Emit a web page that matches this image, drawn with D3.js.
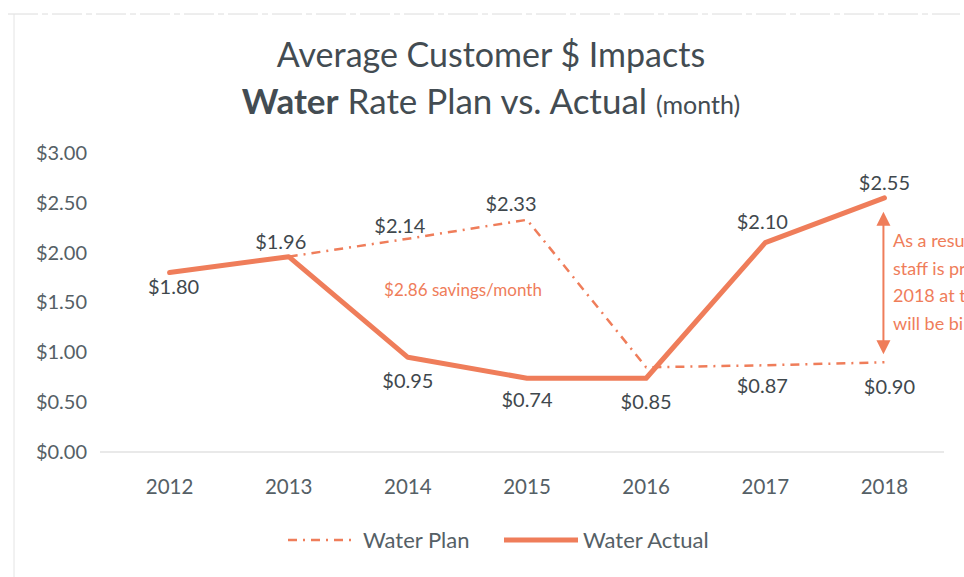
<!DOCTYPE html>
<html>
<head>
<meta charset="utf-8">
<script src="https://cdnjs.cloudflare.com/ajax/libs/d3/7.8.5/d3.min.js"></script>
<style>
  body { margin: 0; background: #fff; }
  svg { display: block; font-family: Lato, "Open Sans", sans-serif; }
</style>
</head>
<body>
<div id="chart"></div>
<script>
// chart values
const years = ["2012", "2013", "2014", "2015", "2016", "2017", "2018"];
const planValues = [null, 1.96, 2.14, 2.33, 0.85, 0.87, 0.90];
const actualValues = [1.80, 1.96, 0.95, 0.74, 0.74, 2.10, 2.55];
const yTicks = [0, 0.5, 1, 1.5, 2, 2.5, 3];
const legendNames = ["Water Plan", "Water Actual"];
const noteLines = ["As a result of the rate review,", "staff is proposing to end", "2018 at the planned rate; customers", "will be billed accordingly"];

const W = 964, H = 577;
const orange = "#ef7d5a";
const textCol = "#434c52";

const svg = d3.select("#chart").append("svg")
    .attr("width", W)
    .attr("height", H);

// faint scanned page edges
svg.append("line").attr("x1", 8).attr("x2", 960).attr("y1", 14).attr("y2", 14)
    .attr("stroke", "#dcdcdc").attr("stroke-dasharray", "30 4 6 4");
svg.append("line").attr("x1", 14).attr("x2", 14).attr("y1", 14).attr("y2", 577)
    .attr("stroke", "#e4e4e4");

const x = d3.scaleBand().domain(years).range([110, 944]);
const y = d3.scaleLinear().domain([0, 3]).range([452, 153]);
const cx = d => x(d) + x.bandwidth() / 2;

// title
const title = svg.append("g").attr("fill", textCol).attr("text-anchor", "middle");
title.append("text").attr("x", 491).attr("y", 67)
    .style("font-size", "34px")
    .text("Average Customer $ Impacts");
const t2 = title.append("text").attr("x", 491).attr("y", 114).style("font-size", "35px");
t2.append("tspan").style("font-weight", "bold").text("Water");
t2.append("tspan").text(" Rate Plan vs. Actual ");
t2.append("tspan").style("font-size", "25px").text("(month)");

// y axis labels (no line)
const yAxis = svg.append("g")
    .attr("transform", "translate(87,0)")
    .call(d3.axisLeft(y).tickValues(yTicks).tickSize(0).tickPadding(0)
        .tickFormat(d => "$" + d3.format(".2f")(d)));
yAxis.select(".domain").remove();
yAxis.selectAll("text").attr("fill", "#556066").style("font-size", "20px")
    .style("font-family", "Lato, sans-serif");

// baseline
svg.append("line").attr("x1", 100).attr("x2", 944)
    .attr("y1", y(0)).attr("y2", y(0))
    .attr("stroke", "#e2e2e2").attr("stroke-width", 1.5);

// x axis labels
const xAxis = svg.append("g")
    .attr("transform", `translate(0,${y(0)})`)
    .call(d3.axisBottom(x).tickSize(0).tickPadding(27));
xAxis.select(".domain").remove();
xAxis.selectAll("text").attr("fill", "#556066").style("font-size", "20.5px")
    .style("font-family", "Lato, sans-serif");

const planData = years.map((yr, i) => ({ yr, v: planValues[i] })).filter(d => d.v != null);
const actualData = years.map((yr, i) => ({ yr, v: actualValues[i] }));

const line = d3.line().x(d => cx(d.yr)).y(d => y(d.v));

svg.append("path").datum(planData)
    .attr("d", line)
    .attr("fill", "none")
    .attr("stroke", orange)
    .attr("stroke-width", 2.5)
    .attr("stroke-dasharray", "9 6 2 6");

svg.append("path").datum(actualData)
    .attr("d", line)
    .attr("fill", "none")
    .attr("stroke", orange)
    .attr("stroke-width", 5)
    .attr("stroke-linejoin", "round")
    .attr("stroke-linecap", "round");

// data labels: which series owns each label and where it sits
const nudge = {
    "a2012": [4, 21], "a2013": [-8, -8], "a2014": [0, 31], "a2015": [0, 29],
    "a2017": [-3, -14], "a2018": [0, -8],
    "p2014": [-8, -6], "p2015": [-16, -9], "p2016": [0, 42], "p2017": [-3, 28], "p2018": [5, 32]
};
const labels = [];
actualData.forEach(d => { if (nudge["a" + d.yr]) labels.push({ key: "a" + d.yr, d }); });
planData.forEach(d => { if (nudge["p" + d.yr]) labels.push({ key: "p" + d.yr, d }); });

svg.append("g").selectAll("text")
    .data(labels)
    .enter().append("text")
    .attr("x", l => cx(l.d.yr) + nudge[l.key][0])
    .attr("y", l => y(l.d.v) + nudge[l.key][1])
    .attr("text-anchor", "middle")
    .attr("fill", "#3f484d")
    .style("font-size", "20px")
    .text(l => "$" + d3.format(".2f")(l.d.v));

// savings note
svg.append("text")
    .attr("x", 463).attr("y", 296)
    .attr("text-anchor", "middle")
    .attr("fill", orange)
    .style("font-size", "17px")
    .text("$2.86 savings/month");

// double arrow between actual and plan in 2018
const ax = cx("2018") - 1;
const ay1 = y(actualValues[6]) + 14, ay2 = y(planValues[6]) - 8;
svg.append("line").attr("x1", ax).attr("x2", ax).attr("y1", ay1 + 8).attr("y2", ay2 - 8)
    .attr("stroke", orange).attr("stroke-width", 2);
svg.append("path").attr("d", `M${ax},${ay1}l-7,14h14z`).attr("fill", orange);
svg.append("path").attr("d", `M${ax},${ay2}l-7,-14h14z`).attr("fill", orange);

svg.append("g").selectAll("text")
    .data(noteLines)
    .enter().append("text")
    .attr("x", 893)
    .attr("y", (d, i) => 247 + i * 27.5)
    .attr("fill", orange)
    .style("font-size", "18px")
    .text(d => d);

// legend
const lg = svg.append("g").attr("transform", "translate(0,540)");
lg.append("line").attr("x1", 288).attr("x2", 356)
    .attr("stroke", orange).attr("stroke-width", 2.5).attr("stroke-dasharray", "9 6 2 6");
lg.append("text").attr("x", 363).attr("y", 8).attr("fill", "#556066")
    .style("font-size", "22px").text(legendNames[0]);
lg.append("line").attr("x1", 504).attr("x2", 578)
    .attr("stroke", orange).attr("stroke-width", 5);
lg.append("text").attr("x", 583).attr("y", 8).attr("fill", "#556066")
    .style("font-size", "22px").text(legendNames[1]);
</script>
</body>
</html>
